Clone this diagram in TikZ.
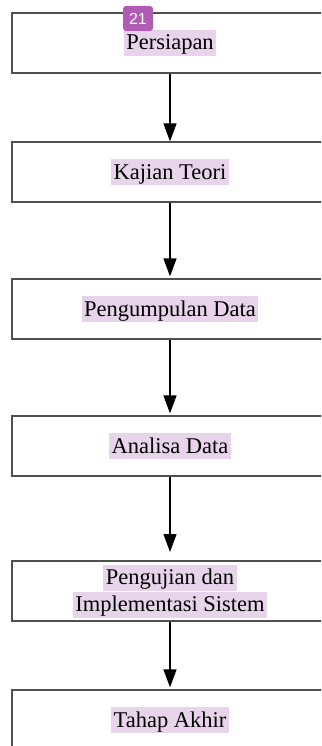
\documentclass[tikz,border=0pt]{standalone}
\usepackage{fontspec}
\setmainfont{Liberation Serif}
\newfontfamily\badgefont{Liberation Sans}
\usetikzlibrary{arrows.meta}
\definecolor{hl}{HTML}{E8D4EA}
\definecolor{badgecol}{HTML}{B05CB4}
\definecolor{framecol}{HTML}{505050}
\begin{document}
\begin{tikzpicture}[x=1pt,y=-1pt,
  stepbox/.style={draw=framecol, line width=1.3pt, minimum width=316pt, minimum height=60pt, inner sep=0pt},
  lbl/.style={fill=hl, font=\fontsize{22.5}{27}\selectfont, text height=19pt, text depth=5pt, inner xsep=2.5pt, inner ysep=1pt},
  flow/.style={-{Triangle[length=18pt,width=13pt]}, line width=1.3pt, black, shorten >=2pt},
  badgestyle/.style={fill=badgecol, rounded corners=3pt, minimum width=30pt, minimum height=25pt, text=white, font=\badgefont\fontsize{16}{16}\selectfont, inner sep=0pt}]
\clip (0,0) rectangle (321,746);
\fill[white] (0,0) rectangle (321,746);
\node[stepbox] (b1) at (170,43) {};
\node[lbl] (t1) at (170,43) {Persiapan};
\node[stepbox] (b2) at (170,172) {};
\node[lbl] (t2) at (170,172) {Kajian Teori};
\node[stepbox] (b3) at (170,309) {};
\node[lbl] (t3) at (170,309) {Pengumpulan Data};
\node[stepbox] (b4) at (170,446) {};
\node[lbl] (t4) at (170,446) {Analisa Data};
\node[stepbox] (b5) at (170,591) {};
\node[lbl] (t5a) at (170,577.5) {Pengujian dan};
\node[lbl] (t5b) at (170,604.5) {Implementasi Sistem};
\node[stepbox] (b6) at (170,720) {};
\node[lbl] (t6) at (170,720) {Tahap Akhir};
\coordinate (e45) at (170,552);
\draw[flow, shorten >=0pt] (b1.south) -- (b2.north);
\draw[flow] (b2.south) -- (b3.north);
\draw[flow] (b3.south) -- (b4.north);
\draw[flow, shorten >=0pt] (b4.south) -- (e45);
\draw[flow] (b5.south) -- (b6.north);
\node[badgestyle] (badge) at (138,18.5) {21};
\end{tikzpicture}
\end{document}
